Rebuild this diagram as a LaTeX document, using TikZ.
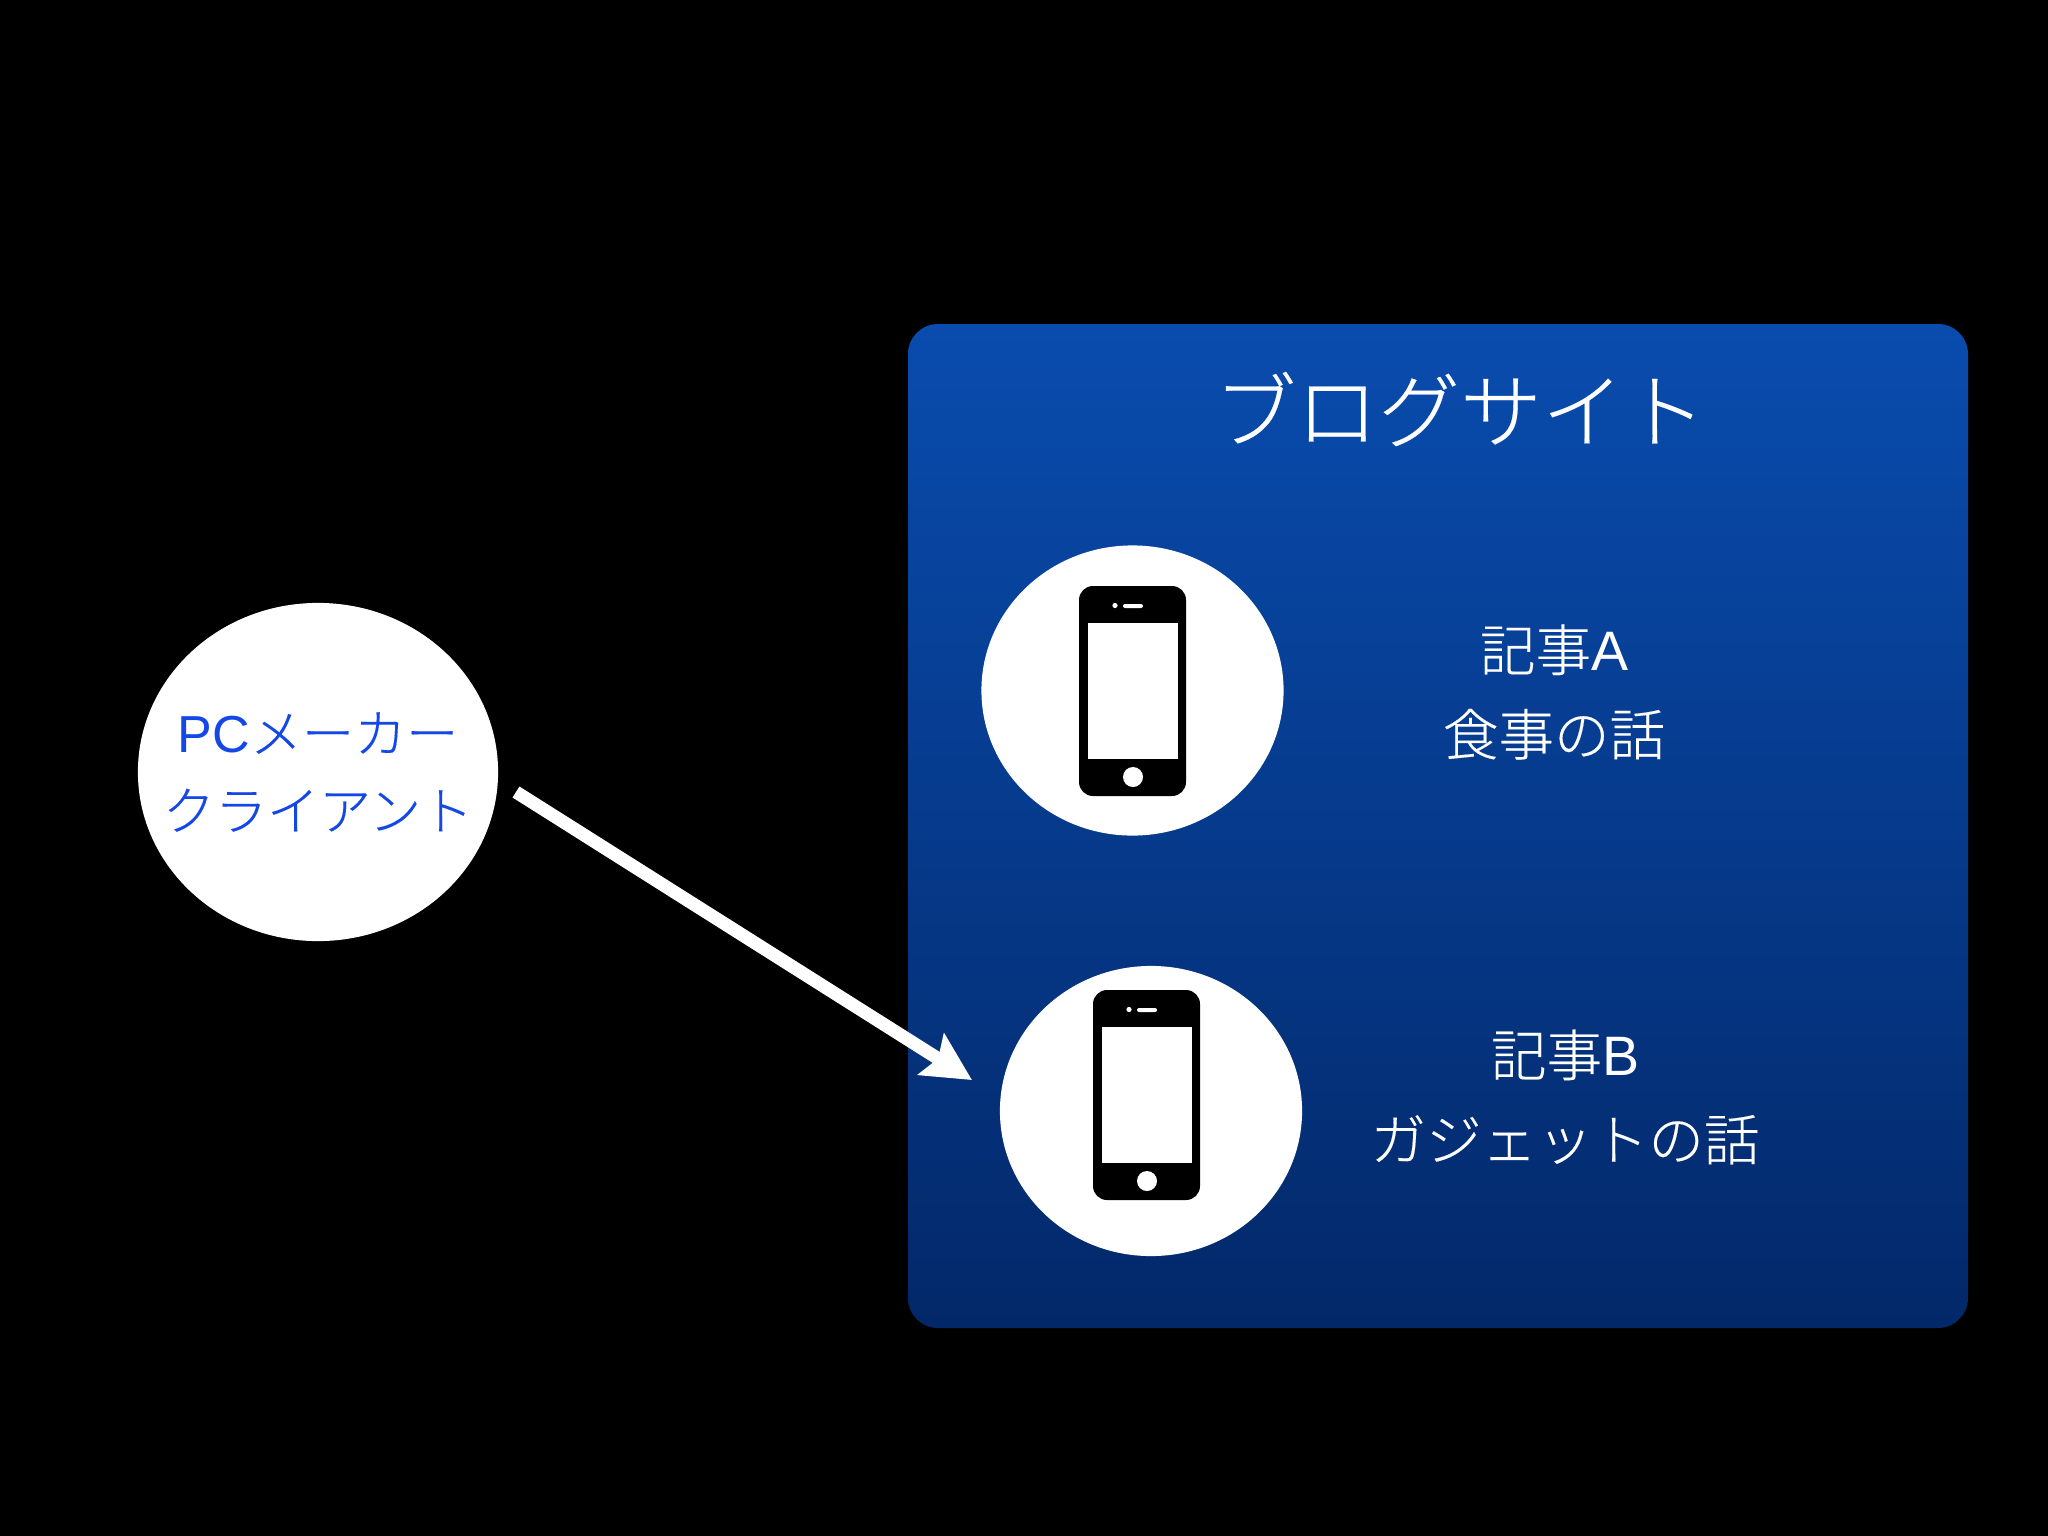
\documentclass[tikz,border=0pt]{standalone}
\usepackage{fontspec}
\setmainfont{Noto Sans CJK JP Light}[FakeBold=0.25]
\newfontfamily\latinpart{Liberation Sans}
\usetikzlibrary{shapes.geometric,arrows.meta}
\definecolor{boxtop}{RGB}{9,76,174}
\definecolor{boxbot}{RGB}{3,40,105}
\definecolor{clienttext}{RGB}{20,72,230}
\tikzset{
  x=0.01cm,y=-0.01cm,
  whiteoval/.style={ellipse,fill=white,draw=none,inner sep=0pt},
  phoneoval/.style={whiteoval,minimum width=3.02cm,minimum height=2.90cm},
  bodytext/.style={text=white,align=center,font=\fontsize{15.8}{24}\selectfont},
  phoneicon/.pic={
    \fill[black,rounded corners=0.14cm] (0,0) rectangle (107,210);
    \fill[white] (9,37) rectangle (99,173);
    \fill[white] (54,191) circle[radius=0.10cm];
    \fill[white,rounded corners=0.02cm] (44,18) rectangle (64,22);
    \fill[white] (36,19.5) circle[radius=0.026cm];
  },
}
\begin{document}
\begin{tikzpicture}
\useasboundingbox (0,0) rectangle (2048,1536);
\fill[black] (0,0) rectangle (2048,1536);
\path[rounded corners=0.30cm,top color=boxtop,bottom color=boxbot,draw=none,middle color=boxtop!50!boxbot] (908,324) rectangle (1968,1328);
\node[text=white,font=\fontsize{23.3}{28}\selectfont] (title) at (1460,409) {ブログサイト};
\node[whiteoval,minimum width=3.60cm,minimum height=3.38cm] (client) at (318,772) {};
\node[text=clienttext,align=center,font=\fontsize{14.8}{22}\selectfont] (clienttxt) at (client) {{\latinpart PC}メーカー\\クライアント};
\node[phoneoval] (ovala) at (1132.5,690.5) {};
\node[phoneoval] (ovalb) at (1151,1111) {};
\pic at (1079,586) {phoneicon};
\pic at (1093,990) {phoneicon};
\node[bodytext] (texta) at (1554,692) {記事{\latinpart A}\\食事の話};
\node[bodytext] (textb) at (1565,1097) {記事{\latinpart B}\\ガジェットの話};
\coordinate (arrowstart) at (516,792);
\coordinate (arrowend) at (972,1080);
\draw[white,line width=0.13cm,-{Stealth[length=4.8mm,width=4.8mm,inset=0.8mm]}] (arrowstart) -- (arrowend);
\end{tikzpicture}
\end{document}
